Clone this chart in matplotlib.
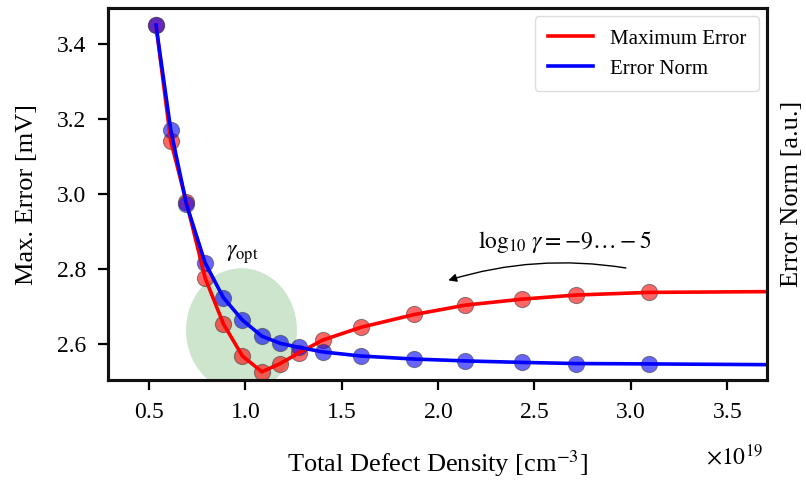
#!/usr/bin/env python
"""Max. error and error norm versus total defect density."""

import matplotlib

matplotlib.use("Agg")
import matplotlib.pyplot as plt
import numpy as np
from matplotlib.patches import Ellipse

# total defect density [cm^-3], one value per regularisation strength
density = np.array([0.536, 0.613, 0.694, 0.791, 0.886, 0.985, 1.086, 1.181,
                    1.280, 1.403, 1.602, 1.878, 2.143, 2.438, 2.719, 3.097]) * 1e19
max_error = np.array([3.452, 3.142, 2.979, 2.777, 2.654, 2.568, 2.526, 2.548,
                      2.577, 2.611, 2.645, 2.679, 2.704, 2.720, 2.731, 2.738])
error_norm = np.array([3.452, 3.171, 2.974, 2.817, 2.724, 2.664, 2.621, 2.602,
                       2.591, 2.579, 2.568, 2.560, 2.555, 2.551, 2.548, 2.547])

# fitted curves continue to the right edge of the axes
tail_density = 3.71e19
tail_max_error = 2.740
tail_error_norm = 2.545

XLIM = (0.287e19, 3.71e19)
YLIM = (2.504, 3.497)

plt.rcParams["font.family"] = ["Liberation Serif", "DejaVu Serif"]
plt.rcParams["mathtext.fontset"] = "stix"


def main() -> None:
    fig = plt.figure(figsize=(8.06, 4.8), dpi=100)
    ax = fig.add_axes([0.134, 0.2083, 0.818, 0.7747])
    ax2 = ax.twinx()

    ax.add_patch(Ellipse((0.980e19, 2.637), 0.576e19, 0.331, color="green",
                         alpha=0.2, linewidth=0, zorder=1))

    ax.scatter(density, max_error, s=135, color="red", alpha=0.6,
               edgecolor="#444444", linewidth=0.8, zorder=2)
    ax.scatter(density, error_norm, s=135, color="blue", alpha=0.6,
               edgecolor="#444444", linewidth=0.8, zorder=2)

    red_x = np.append(density, tail_density)
    red_y = np.append(max_error, tail_max_error)
    blue_x = np.append(density, tail_density)
    blue_y = np.append(error_norm, tail_error_norm)
    ax.plot(red_x, red_y, color="red", linewidth=2.6, zorder=3, label="Maximum Error")
    ax.plot(blue_x, blue_y, color="blue", linewidth=2.6, zorder=4, label="Error Norm")

    ax.text(0.984e19, 2.840, r"$\gamma_{\mathrm{opt}}$", fontsize=17,
            ha="center", va="center")
    ax.text(2.66e19, 2.872, r"$\log_{10}\,\gamma = -9\ldots-5$", fontsize=17,
            ha="center", va="center")
    ax.annotate("", xy=(2.04e19, 2.768), xytext=(2.99e19, 2.802),
                arrowprops=dict(arrowstyle="-|>", color="black", lw=1.0,
                                mutation_scale=12,
                                connectionstyle="arc3,rad=0.12"))

    ax.set_xlim(*XLIM)
    ax.set_ylim(*YLIM)
    ax2.set_ylim(*YLIM)
    ax2.set_yticks([])
    ax.set_xticks(np.arange(0.5, 3.6, 0.5) * 1e19)
    ax.set_yticks([2.6, 2.8, 3.0, 3.2, 3.4])
    ax.ticklabel_format(axis="x", style="sci", scilimits=(19, 19), useMathText=True)
    # draw the multiplier lower, next to the axis label, as in the original figure
    ax.xaxis.get_offset_text().set_visible(False)
    ax.text(0.993, -0.205, r"$\times10^{19}$", transform=ax.transAxes,
            fontsize=17, ha="right", va="center")

    ax.tick_params(direction="out", length=7, width=1.6, labelsize=17, pad=9)
    for axis in (ax, ax2):
        for spine in axis.spines.values():
            spine.set_linewidth(2.2)
            spine.set_color("#111111")

    ax.set_xlabel(r"Total Defect Density [cm$^{-3}$]", fontsize=19, labelpad=18)
    ax.set_ylabel("Max. Error [mV]", fontsize=19, labelpad=13)
    ax2.set_ylabel("Error Norm [a.u.]", fontsize=19, labelpad=10)

    ax.legend(loc="upper right", fontsize=15, framealpha=1.0, edgecolor="#dddddd",
              fancybox=True, handlelength=2.2, borderpad=0.6, borderaxespad=0.4)

    fig.savefig("out.png", dpi=100)
    plt.close(fig)


if __name__ == "__main__":
    main()
